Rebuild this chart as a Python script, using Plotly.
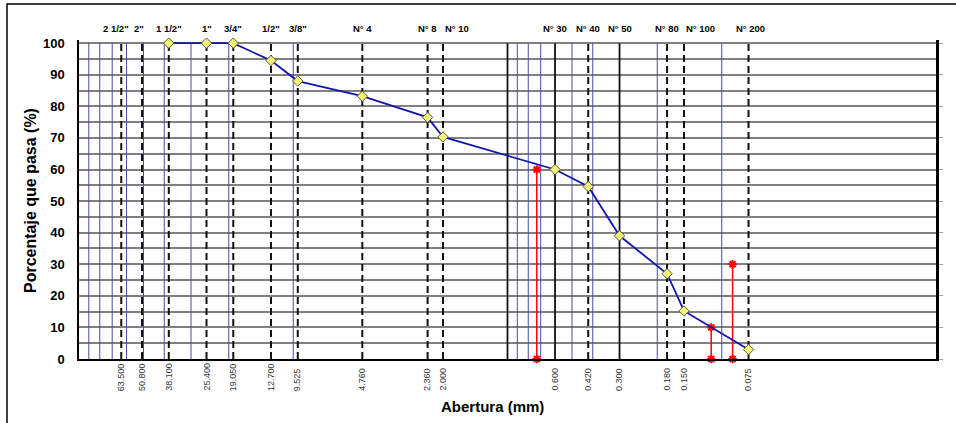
import math
import plotly.graph_objects as go

# ---------------- data ----------------
sieve_mm = [63.5, 50.8, 38.1, 25.4, 19.05, 12.7, 9.525, 4.76, 2.36, 2.0,
            0.6, 0.42, 0.3, 0.18, 0.15, 0.075]
sieve_names = ['2 1/2"', '2"', '1 1/2"', '1"', '3/4"', '1/2"', '3/8"', 'N° 4',
               'N° 8', 'N° 10', 'N° 30', 'N° 40', 'N° 50', 'N° 80', 'N° 100', 'N° 200']
sieve_mm_text = ['63.500', '50.800', '38.100', '25.400', '19.050', '12.700', '9.525',
                 '4.760', '2.360', '2.000', '0.600', '0.420', '0.300', '0.180',
                 '0.150', '0.075']

test_mm = [38.1, 25.4, 19.05, 12.7, 9.525, 4.76, 2.36, 2.0, 0.6, 0.42, 0.3,
           0.18, 0.15, 0.075]
test_pct = [100, 100, 100, 94.5, 88, 83.2, 76.5, 70.3, 60, 54.6, 39, 27, 15.2, 3]

d_mm = [0.73, 0.112, 0.089]      # D60, D10, D30 markers
d_pct = [60, 10, 30]

blue_grid_mm = [90, 80, 70, 60, 50, 40, 30, 20, 10, 0.9, 0.8, 0.7, 0.5, 0.4, 0.2, 0.1]
solid_sieve_mm = [1.0, 0.6, 0.3]
dashed_sieve_mm = [v for v in sieve_mm if v not in solid_sieve_mm]

y_ticks = list(range(0, 101, 10))
y_grid = list(range(0, 101, 5))

FONT = "Arial, Liberation Sans, sans-serif"

Y_TOP = 101.0


def py(pix):
    """paper y for a pixel row, given plot spans rows 40..359"""
    return (359 - pix) / (359 - 40)


def vlines(xs):
    X, Y = [], []
    for v in xs:
        X += [v, v, None]
        Y += [0, 100, None]
    return X, Y


fig = go.Figure()

bx, by = vlines(blue_grid_mm)
fig.add_trace(go.Scatter(x=bx, y=by, mode="lines", hoverinfo="skip",
                         line=dict(color="#4a4aa8", width=1)))
sx, sy = vlines(solid_sieve_mm)
fig.add_trace(go.Scatter(x=sx, y=sy, mode="lines", hoverinfo="skip",
                         line=dict(color="#111111", width=1.8)))
dx, dy = vlines(dashed_sieve_mm)
fig.add_trace(go.Scatter(x=dx, y=dy, mode="lines", hoverinfo="skip",
                         line=dict(color="#111111", width=2, dash="7px,4px")))

# red D-lines
for xv, yv in zip(d_mm, d_pct):
    fig.add_trace(go.Scatter(x=[xv, xv], y=[0, yv], mode="lines+markers",
                             cliponaxis=False, hoverinfo="skip",
                             line=dict(color="#ff0000", width=1.5),
                             marker=dict(symbol="asterisk", size=7,
                                         line=dict(color="#ff0000", width=2))))

# grading curve
fig.add_trace(go.Scatter(x=test_mm, y=test_pct, mode="lines+markers",
                         cliponaxis=False,
                         line=dict(color="#1414b0", width=1.8),
                         marker=dict(symbol="diamond", size=8, color="#f2f27a",
                                     line=dict(color="#5a5a3a", width=1))))

annotations = []
shifts = {'2 1/2"': -5, '2"': -3, 'N° 10': 14, 'N° 100': 16, 'N° 200': 2}
for v, name in zip(sieve_mm, sieve_names):
    annotations.append(dict(x=math.log10(v), y=py(28), xref="x", yref="paper",
                            text="<b>%s</b>" % name, showarrow=False,
                            xanchor="center", yanchor="middle",
                            xshift=shifts.get(name, 0),
                            font=dict(family=FONT, size=9.5, color="#000000")))
for v, t in zip(sieve_mm, sieve_mm_text):
    annotations.append(dict(x=math.log10(v), y=py(393), xref="x", yref="paper",
                            text=t, showarrow=False, textangle=-90,
                            xanchor="center", yanchor="bottom",
                            font=dict(family="Liberation Sans Narrow, Arial Narrow, " + FONT,
                                      size=9, color="#333333")))
annotations.append(dict(x=0.482, y=py(407), xref="paper", yref="paper",
                        text="<b>Abertura (mm)</b>", showarrow=False,
                        xanchor="center", yanchor="middle",
                        font=dict(family=FONT, size=15, color="#000000")))
annotations.append(dict(x=(30 - 79) / 857, y=py(201), xref="paper", yref="paper",
                        text="<b>Porcentaje que pasa (%)</b>", showarrow=False,
                        textangle=-90, xanchor="center", yanchor="middle",
                        font=dict(family=FONT, size=16, color="#000000")))

fig.update_layout(
    width=956, height=423, autosize=False,
    margin=dict(l=79, r=20, t=40, b=64, pad=0),
    paper_bgcolor="white", plot_bgcolor="white",
    showlegend=False,
    annotations=annotations,
    xaxis=dict(type="log", range=[2, -2], showgrid=False, zeroline=False,
               showticklabels=False, ticks="", showline=True,
               linecolor="#000000", linewidth=2),
    yaxis=dict(range=[0, Y_TOP], tickvals=y_grid,
               ticktext=["<b>%d</b>" % v if v % 10 == 0 else "" for v in y_grid],
               showgrid=True, gridcolor="#808080", gridwidth=1.5,
               zeroline=False, ticks="", ticklabelstandoff=10,
               tickfont=dict(family=FONT, size=13, color="#000000"),
               showline=True, linecolor="#000000", linewidth=1.5),
    yaxis2=dict(range=[0, Y_TOP], overlaying="y", side="right", anchor="x",
                tickvals=y_ticks, showticklabels=False, showgrid=False,
                zeroline=False, ticks="outside", ticklen=4, tickcolor="#a0a0a0",
                showline=True, linecolor="#000000", linewidth=3),
    shapes=[dict(type="rect", xref="paper", yref="paper",
                 x0=(7 - 79) / 857, x1=1.06, y0=-0.35, y1=py(4),
                 line=dict(color="#000000", width=1.5), layer="above")],
)
# dummy trace to activate yaxis2
fig.add_trace(go.Scatter(x=[1], y=[None], yaxis="y2", hoverinfo="skip",
                         showlegend=False))

fig.write_html("out.html", config={"displayModeBar": False},
               post_script="document.body.style.margin='0';")
